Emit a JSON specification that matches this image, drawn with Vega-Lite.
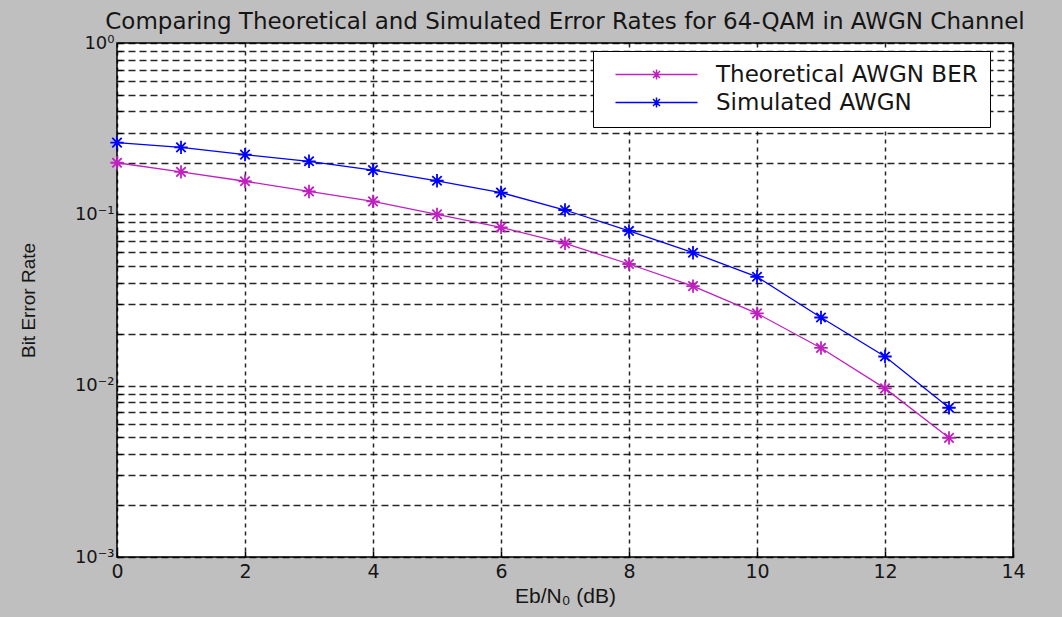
{
  "$schema": "https://vega.github.io/schema/vega-lite/v6.json",
  "width": 896,
  "height": 514,
  "autosize": {"type": "none"},
  "padding": {"left": 117, "top": 43, "right": 49, "bottom": 60},
  "background": "#bfbfbf",
  "config": {
    "font": "DejaVu Sans",
    "view": {"fill": "white", "stroke": "black", "strokeWidth": 1.5}
  },
  "title": {
    "text": "Comparing Theoretical and Simulated Error Rates for 64-QAM in AWGN Channel",
    "font": "DejaVu Sans",
    "fontSize": 23,
    "fontWeight": "normal",
    "color": "#151515",
    "frame": "group",
    "offset": 0,
    "anchor": "middle"
  },
  "data": {
    "values": [
      {"ebno": 0, "ber": 0.200, "series": "Theoretical AWGN BER"},
      {"ebno": 1, "ber": 0.177, "series": "Theoretical AWGN BER"},
      {"ebno": 2, "ber": 0.156, "series": "Theoretical AWGN BER"},
      {"ebno": 3, "ber": 0.136, "series": "Theoretical AWGN BER"},
      {"ebno": 4, "ber": 0.119, "series": "Theoretical AWGN BER"},
      {"ebno": 5, "ber": 0.100, "series": "Theoretical AWGN BER"},
      {"ebno": 6, "ber": 0.084, "series": "Theoretical AWGN BER"},
      {"ebno": 7, "ber": 0.0677, "series": "Theoretical AWGN BER"},
      {"ebno": 8, "ber": 0.0513, "series": "Theoretical AWGN BER"},
      {"ebno": 9, "ber": 0.0381, "series": "Theoretical AWGN BER"},
      {"ebno": 10, "ber": 0.0264, "series": "Theoretical AWGN BER"},
      {"ebno": 11, "ber": 0.0166, "series": "Theoretical AWGN BER"},
      {"ebno": 12, "ber": 0.00964, "series": "Theoretical AWGN BER"},
      {"ebno": 13, "ber": 0.00496, "series": "Theoretical AWGN BER"},
      {"ebno": 0, "ber": 0.262, "series": "Simulated AWGN"},
      {"ebno": 1, "ber": 0.246, "series": "Simulated AWGN"},
      {"ebno": 2, "ber": 0.223, "series": "Simulated AWGN"},
      {"ebno": 3, "ber": 0.204, "series": "Simulated AWGN"},
      {"ebno": 4, "ber": 0.181, "series": "Simulated AWGN"},
      {"ebno": 5, "ber": 0.157, "series": "Simulated AWGN"},
      {"ebno": 6, "ber": 0.134, "series": "Simulated AWGN"},
      {"ebno": 7, "ber": 0.106, "series": "Simulated AWGN"},
      {"ebno": 8, "ber": 0.080, "series": "Simulated AWGN"},
      {"ebno": 9, "ber": 0.0597, "series": "Simulated AWGN"},
      {"ebno": 10, "ber": 0.0432, "series": "Simulated AWGN"},
      {"ebno": 11, "ber": 0.0250, "series": "Simulated AWGN"},
      {"ebno": 12, "ber": 0.0148, "series": "Simulated AWGN"},
      {"ebno": 13, "ber": 0.00743, "series": "Simulated AWGN"}
    ]
  },
  "encoding": {
    "x": {
      "field": "ebno",
      "type": "quantitative",
      "scale": {"domain": [0, 14], "nice": false},
      "axis": {
        "title": "Eb/N₀ (dB)",
        "titleFont": "Liberation Sans",
        "titleFontSize": 21,
        "titleFontWeight": "normal",
        "titleColor": "#151515",
        "titlePadding": 4,
        "values": [0, 2, 4, 6, 8, 10, 12, 14],
        "labelFontSize": 19,
        "labelColor": "#151515",
        "labelPadding": 11,
        "labelFlush": false,
        "labelOverlap": false,
        "domain": false,
        "ticks": true,
        "tickSize": -6,
        "tickWidth": 1.5,
        "tickColor": "black",
        "grid": true,
        "gridColor": "black",
        "gridDash": [4, 4],
        "gridWidth": 1.5,
        "gridOpacity": 0.85
      }
    },
    "y": {
      "field": "ber",
      "type": "quantitative",
      "scale": {"type": "log", "domain": [0.001, 1], "nice": false},
      "axis": {
        "title": "Bit Error Rate",
        "titleFont": "Liberation Sans",
        "titleFontSize": 19,
        "titleFontWeight": "normal",
        "titleColor": "#151515",
        "titlePadding": 36,
        "values": [0.001, 0.002, 0.003, 0.004, 0.005, 0.006, 0.007, 0.008, 0.009, 0.01, 0.02, 0.03, 0.04, 0.05, 0.06, 0.07, 0.08, 0.09, 0.1, 0.2, 0.3, 0.4, 0.5, 0.6, 0.7, 0.8, 0.9, 1],
        "labelExpr": "datum.value == 1 ? '10⁰' : datum.value == 0.1 ? '10⁻¹' : datum.value == 0.01 ? '10⁻²' : datum.value == 0.001 ? '10⁻³' : ''",
        "labelFontSize": 18,
        "labelColor": "#151515",
        "labelPadding": 8,
        "labelFlush": false,
        "labelOverlap": false,
        "domain": false,
        "ticks": true,
        "tickSize": -5,
        "tickWidth": 1.2,
        "tickColor": "black",
        "grid": true,
        "gridColor": "black",
        "gridDash": [7, 4],
        "gridWidth": 1.5,
        "gridOpacity": 0.85
      }
    },
    "color": {
      "field": "series",
      "type": "nominal",
      "scale": {"domain": ["Theoretical AWGN BER", "Simulated AWGN"], "range": ["#c020c0", "#0000ff"]},
      "legend": {
        "title": null,
        "orient": "none",
        "legendX": 476,
        "legendY": 8,
        "fillColor": "white",
        "strokeColor": "black",
        "padding": 12,
        "symbolType": "M-0.2,0H16.2M8,-1V1M7,0H9M7.3,-0.7L8.7,0.7M7.3,0.7L8.7,-0.7",
        "symbolSize": 100,
        "symbolStrokeWidth": 1.5,
        "symbolFillColor": "transparent",
        "labelOffset": 88,
        "labelFont": "DejaVu Sans",
        "labelFontSize": 23,
        "labelColor": "#151515",
        "rowPadding": 4,
        "labelLimit": 500
      }
    }
  },
  "layer": [
    {"mark": {"type": "line", "strokeWidth": 1.3}},
    {
      "mark": {
        "type": "point",
        "shape": "M-1,0H1M0,-1V1M-0.7,-0.7L0.7,0.7M-0.7,0.7L0.7,-0.7",
        "size": 180,
        "filled": false,
        "strokeWidth": 1.8,
        "opacity": 1
      }
    }
  ]
}
